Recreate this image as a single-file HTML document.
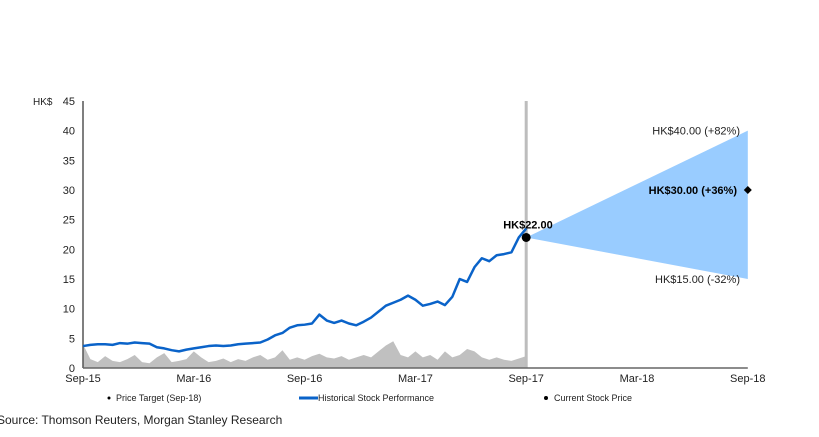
<!DOCTYPE html>
<html><head><meta charset="utf-8"><style>
body{margin:0;background:#fff;width:819px;height:432px;overflow:hidden;font-family:"Liberation Sans",Arial,sans-serif}
</style></head><body>
<svg id="chart" width="819" height="432" xmlns="http://www.w3.org/2000/svg" font-family="Liberation Sans, Arial, sans-serif"></svg>
<script>
const xTickLabels=["Sep-15","Mar-16","Sep-16","Mar-17","Sep-17","Mar-18","Sep-18"];
const yTicks=[0,5,10,15,20,25,30,35,40,45];
// half-month price points from Sep-15 to Sep-17
const priceHist=[3.7,3.9,4.0,4.0,3.9,4.2,4.1,4.3,4.2,4.1,3.5,3.3,3.0,2.8,3.1,3.3,3.5,3.7,3.8,3.7,3.8,4.0,4.1,4.2,4.3,4.8,5.5,5.9,6.8,7.2,7.3,7.5,9.0,8.0,7.6,8.0,7.5,7.2,7.8,8.5,9.5,10.5,11.0,11.5,12.2,11.5,10.5,10.8,11.2,10.6,12.0,15.0,14.5,17.0,18.5,18.0,19.0,19.2,19.5,22.0,23.5];
// relative volume (in price units for the bottom band)
const volume=[4,1.5,1,2,1.2,1,1.5,2.2,1,0.8,1.8,2.5,1,1.2,1.5,2.8,1.8,1,1.2,1.6,1,1.5,1.2,1.8,2.2,1.4,1.8,3,1.4,1.8,1.4,2,2.4,1.8,1.6,2,1.4,1.8,2.2,1.8,2.8,3.8,4.5,2.2,1.8,2.8,1.8,2.2,1.4,2.8,1.8,2.2,3.2,2.8,1.8,1.4,1.8,1.4,1.2,1.6,2];
const currentPrice=22;
const targetBull=40, targetBase=30, targetBear=15;

const svg=document.getElementById('chart');
const NS='http://www.w3.org/2000/svg';
const X0=83,XS=110.8,Y0=368,YT=101;
const yS=v=>Y0-(v/45)*(Y0-YT);
const xT=i=>X0+i*XS;
const xHist=i=>X0+i*(4*XS)/(priceHist.length-1);
function el(t,a,txt){const e=document.createElementNS(NS,t);for(const k in a)e.setAttribute(k,a[k]);if(txt!==undefined)e.textContent=txt;svg.appendChild(e);return e;}

let vd=`M${X0},${Y0}`;volume.forEach((v,i)=>{vd+=` L${xHist(i)},${yS(v)}`});vd+=` L${xHist(volume.length-1)},${Y0} Z`;
let e=el('path',{d:vd,fill:'#c0c0c0'});



e=el('polygon',{points:`${xT(4)},${yS(currentPrice)} ${xT(6)},${yS(targetBull)} ${xT(6)},${yS(targetBear)}`,fill:'#99ccff'});



e=el('line',{x1:xT(4),x2:xT(4),y1:YT,y2:Y0,stroke:'#bdbdbd','stroke-width':3});



e=el('line',{x1:X0,x2:X0,y1:YT,y2:Y0,stroke:'#555','stroke-width':1.5});


e=el('line',{x1:X0,x2:xT(6),y1:Y0,y2:Y0,stroke:'#666','stroke-width':1.5});



yTicks.forEach(v=>{const t=el('text',{x:75,y:yS(v)+4,'font-size':11,'text-anchor':'end',fill:'#222'},v);

});
e=el('text',{x:33,y:105,'font-size':10,fill:'#222'},'HK$');


xTickLabels.forEach((l,i)=>{const t=el('text',{x:xT(i),y:382,'font-size':11,'text-anchor':'middle',fill:'#222'},l);

});

let pd='';priceHist.forEach((v,i)=>{pd+=(i?' L':'M')+xHist(i)+','+yS(v)});
e=el('path',{d:pd,fill:'none',stroke:'#0a63c9','stroke-width':2.5,'stroke-linejoin':'round'});



e=el('circle',{cx:xT(4),cy:yS(currentPrice),r:4.5,fill:'#000'});


e=el('text',{x:xT(4)-23,y:yS(currentPrice)-9,'font-size':11,'font-weight':'bold',fill:'#000'},'HK$'+currentPrice.toFixed(2));



const xd=xT(6),yd=yS(targetBase);
e=el('polygon',{points:`${xd},${yd-4} ${xd+4},${yd} ${xd},${yd+4} ${xd-4},${yd}`,fill:'#000'});


const pct=v=>{const p=Math.round((v/currentPrice-1)*100);return (p>=0?'+':'')+p+'%'};
e=el('text',{x:740,y:yS(targetBull)+4,'font-size':11,'text-anchor':'end',fill:'#222'},`HK$${targetBull.toFixed(2)} (${pct(targetBull)})`);


e=el('text',{x:737,y:yd+4,'font-size':11,'font-weight':'bold','text-anchor':'end',fill:'#000'},`HK$${targetBase.toFixed(2)} (${pct(targetBase)})`);


e=el('text',{x:740,y:yS(targetBear)+4,'font-size':11,'text-anchor':'end',fill:'#222'},`HK$${targetBear.toFixed(2)} (${pct(targetBear)})`);



e=el('circle',{cx:109,cy:398,r:1.5,fill:'#000'});


e=el('text',{x:116,y:401,'font-size':9,fill:'#222'},'Price Target (Sep-18)');


e=el('line',{x1:299,x2:318,y1:398,y2:398,stroke:'#0a63c9','stroke-width':3});


e=el('text',{x:318,y:401,'font-size':9,fill:'#222'},'Historical Stock Performance');


e=el('circle',{cx:546,cy:398,r:2,fill:'#000'});


e=el('text',{x:554,y:401,'font-size':9,fill:'#222'},'Current Stock Price');


e=el('text',{x:-3,y:424,'font-size':12,fill:'#222'},'Source: Thomson Reuters, Morgan Stanley Research');


</script>
</body></html>
